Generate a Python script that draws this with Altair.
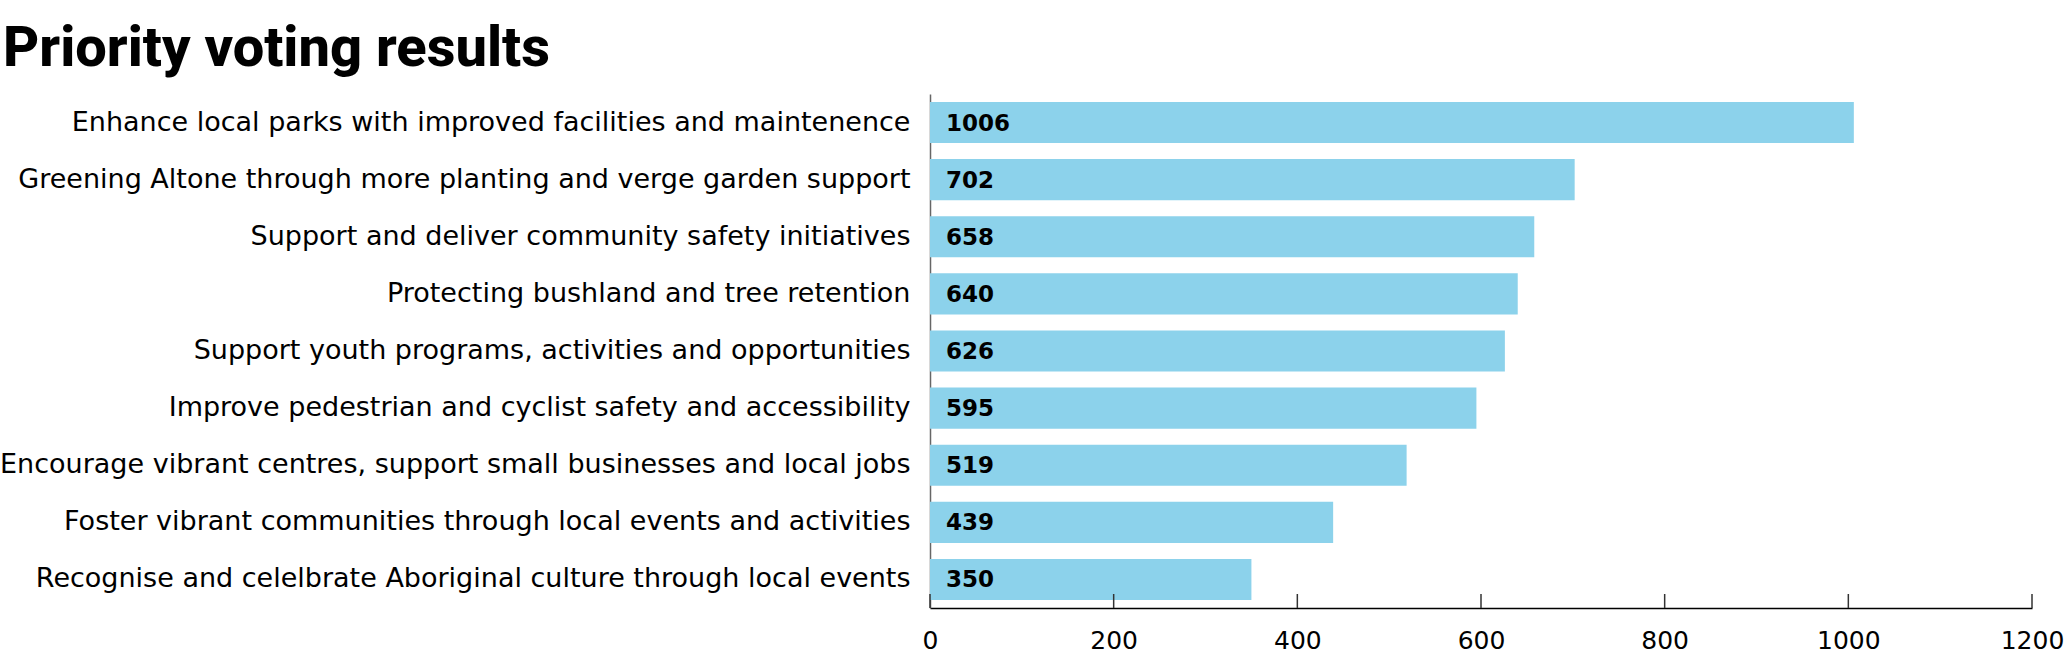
import altair as alt
import pandas as pd

# Priority options and the number of votes each received
priorities = [
    "Enhance local parks with improved facilities and maintenence",
    "Greening Altone through more planting and verge garden support",
    "Support and deliver community safety initiatives",
    "Protecting bushland and tree retention",
    "Support youth programs, activities and opportunities",
    "Improve pedestrian and cyclist safety and accessibility",
    "Encourage vibrant centres, support small businesses and local jobs",
    "Foster vibrant communities through local events and activities",
    "Recognise and celelbrate Aboriginal culture through local events",
]
votes = [1006, 702, 658, 640, 626, 595, 519, 439, 350]
x_ticks = [0, 200, 400, 600, 800, 1000, 1200]

df = pd.DataFrame({"priority": priorities, "votes": votes})
ticks_df = pd.DataFrame({"tick": x_ticks})

W, H = 1102, 514
FONT = "DejaVu Sans"
BAR = "#8CD2EB"

x_scale = alt.Scale(domain=[0, 1200], nice=False, zero=True)
y_scale = alt.Scale(paddingInner=0.28, paddingOuter=0.14)

bars = alt.Chart(df).mark_bar(color=BAR).encode(
    x=alt.X(
        "votes:Q",
        scale=x_scale,
        axis=alt.Axis(
            values=x_ticks,
            format="d",
            title=None,
            grid=False,
            ticks=False,
            labelFlush=False,
            domainColor="#000000",
            domainWidth=1.5,
            labelFont=FONT,
            labelFontSize=25,
            labelColor="#000000",
            labelPadding=20,
        ),
    ),
    y=alt.Y(
        "priority:N",
        sort=priorities,
        scale=y_scale,
        axis=alt.Axis(
            title=None,
            ticks=False,
            domainColor="#666666",
            domainWidth=1.5,
            labelFont=FONT,
            labelFontSize=27,
            labelColor="#000000",
            labelPadding=20,
            labelLimit=0,
        ),
    ),
)

values = alt.Chart(df).mark_text(
    align="left", baseline="middle", dx=16, dy=1,
    font=FONT, fontSize=23, fontWeight="bold", color="#000000",
).encode(
    x=alt.datum(0, scale=x_scale),
    y=alt.Y("priority:N", sort=priorities, scale=y_scale),
    text="votes:Q",
)

# Short inward-pointing tick marks on the value axis
tick_marks = alt.Chart(ticks_df).mark_rule(color="#333333", strokeWidth=1.5).encode(
    x=alt.X("tick:Q", scale=x_scale),
    y=alt.value(H - 14),
    y2=alt.value(H),
)

chart = (
    alt.layer(bars, values, tick_marks)
    .properties(
        width=W,
        height=H,
        padding={"left": 930, "top": 94, "right": 35, "bottom": 52},
        autosize=alt.AutoSizeParams(type="none"),
        title=alt.TitleParams(
            "Priority voting results",
            anchor="start",
            frame="group",
            dx=-927,
            offset=16,
            font="Roboto",
            fontSize=56,
            fontWeight=800,
            color="#000000",
        ),
    )
    .configure_view(stroke=None)
)

chart.save("out.html", embed_options={"renderer": "svg", "actions": False})
